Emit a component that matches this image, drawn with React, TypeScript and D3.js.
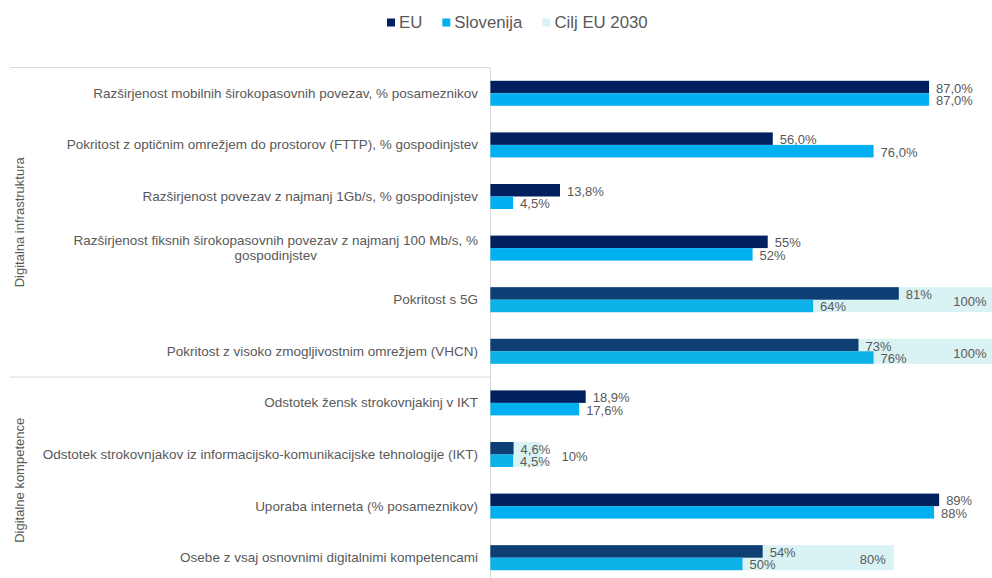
import React, { useEffect, useRef } from "react";
import * as d3 from "d3";

const categories: string[] = [
  "Razširjenost mobilnih širokopasovnih povezav, % posameznikov",
  "Pokritost z optičnim omrežjem do prostorov (FTTP), % gospodinjstev",
  "Razširjenost povezav z najmanj 1Gb/s, % gospodinjstev",
  "Razširjenost fiksnih širokopasovnih povezav z najmanj 100 Mb/s, %\ngospodinjstev",
  "Pokritost s 5G",
  "Pokritost z visoko zmogljivostnim omrežjem (VHCN)",
  "Odstotek žensk strokovnjakinj v IKT",
  "Odstotek strokovnjakov iz informacijsko-komunikacijske tehnologije (IKT)",
  "Uporaba interneta (% posameznikov)",
  "Osebe z vsaj osnovnimi digitalnimi kompetencami",
];
const euValues: number[] = [87.0, 56.0, 13.8, 55, 81, 73, 18.9, 4.6, 89, 54];
const siValues: number[] = [87.0, 76.0, 4.5, 52, 64, 76, 17.6, 4.5, 88, 50];
const targetValues: (number | null)[] = [null, null, null, null, 100, 100, null, 10, null, 80];
const euDecimals: number[] = [1, 1, 1, 0, 0, 0, 1, 1, 0, 0];
const siDecimals: number[] = [1, 1, 1, 0, 0, 0, 1, 1, 0, 0];
const groupNames: string[] = ["Digitalna infrastruktura", "Digitalne kompetence"];
const groupSizes: number[] = [6, 4];
const seriesNames: string[] = ["EU", "Slovenija", "Cilj EU 2030"];
const seriesColors: string[] = ["#002060", "#00B0F0", "#DAF2F5"];

const W = 992;
const H = 578;
const FONT = "'Liberation Sans', Arial, sans-serif";
const TEXT = "#595959";
const GRID = "#D9D9D9";

const fmt = (v: number, d: number) => v.toFixed(d).replace(".", ",") + "%";

export default function App() {
  const ref = useRef<SVGSVGElement | null>(null);

  useEffect(() => {
    const svg = d3.select(ref.current);
    svg.selectAll("*").remove();

    const x = d3.scaleLinear().domain([0, 100]).range([490.4, 994.6]);
    const y = d3.scaleBand<string>().domain(categories).range([67.5, 583.5]).padding(0);
    const bw = y.bandwidth();
    const barH = 12.5;
    const cy = (c: string) => (y(c) as number) + bw / 2;

    // frame lines
    const g0 = svg.append("g");
    g0.append("line").attr("x1", 10).attr("x2", 490).attr("y1", 67.5).attr("y2", 67.5).attr("stroke", GRID);
    let acc = 0;
    groupSizes.forEach((n, gi) => {
      const top = y(categories[acc]) as number;
      const bottom = top + n * bw;
      g0.append("line").attr("x1", 10).attr("x2", 490).attr("y1", bottom).attr("y2", bottom).attr("stroke", GRID);
      g0.append("text")
        .attr("transform", `translate(19,${(top + bottom) / 2}) rotate(-90)`)
        .attr("text-anchor", "middle")
        .attr("dominant-baseline", "central")
        .attr("font-family", FONT)
        .attr("font-size", 13)
        .attr("fill", TEXT)
        .text(groupNames[gi]);
      acc += n;
    });
    g0.append("line").attr("x1", 490.5).attr("x2", 490.5).attr("y1", 67.5).attr("y2", 583.5).attr("stroke", GRID);

    // category labels
    categories.forEach((c) => {
      const lines = c.split("\n");
      const lh = 14.5;
      const y0 = cy(c) - ((lines.length - 1) * lh) / 2;
      const t0 = g0.append("text")
        .attr("x", 478)
        .attr("y", y0)
        .attr("text-anchor", "end")
        .attr("dominant-baseline", "central")
        .attr("font-family", FONT)
        .attr("font-size", 13.5)
        .attr("fill", TEXT)
        .text(lines[0]);
      if (lines.length > 1) {
        const w0 = (t0.node() as SVGTextElement).getComputedTextLength();
        lines.slice(1).forEach((ln, i) => {
          g0.append("text")
            .attr("x", 478 - w0 / 2)
            .attr("y", y0 + (i + 1) * lh)
            .attr("text-anchor", "middle")
            .attr("dominant-baseline", "central")
            .attr("font-family", FONT)
            .attr("font-size", 13.5)
            .attr("fill", TEXT)
            .text(ln);
        });
      }
    });

    // bars
    const gb = svg.append("g");
    gb.selectAll("rect.eu").data(categories).join("rect")
      .attr("class", "eu")
      .attr("x", x(0)).attr("y", (c) => cy(c) - barH)
      .attr("width", (_, i) => x(euValues[i]) - x(0)).attr("height", barH)
      .attr("fill", seriesColors[0]);
    gb.selectAll("rect.si").data(categories).join("rect")
      .attr("class", "si")
      .attr("x", x(0)).attr("y", (c) => cy(c))
      .attr("width", (_, i) => x(siValues[i]) - x(0)).attr("height", barH)
      .attr("fill", seriesColors[1]);
    categories.forEach((c, i) => {
      const t = targetValues[i];
      if (t == null) return;
      gb.append("rect")
        .attr("x", x(0)).attr("y", cy(c) - barH)
        .attr("width", x(t) - x(0)).attr("height", barH * 2)
        .attr("fill", "rgb(66,190,200)").attr("fill-opacity", 0.2);
    });

    // labels
    const gl = svg.append("g").attr("font-family", FONT).attr("font-size", 13).attr("fill", TEXT);
    categories.forEach((c, i) => {
      gl.append("text").attr("x", x(euValues[i]) + 7).attr("y", cy(c) - barH / 2 + 1)
        .attr("dominant-baseline", "central").text(fmt(euValues[i], euDecimals[i]));
      gl.append("text").attr("x", x(siValues[i]) + 7).attr("y", cy(c) + barH / 2 + 1)
        .attr("dominant-baseline", "central").text(fmt(siValues[i], siDecimals[i]));
      const t = targetValues[i];
      if (t != null) {
        const mx = Math.max(euValues[i], siValues[i]);
        gl.append("text")
          .attr("x", Math.max(x(t) - 8, x(mx) + 74))
          .attr("y", cy(c) + 2)
          .attr("text-anchor", "end")
          .attr("dominant-baseline", "central")
          .text(fmt(t, 0));
      }
    });

    // legend
    const lg = svg.append("g");
    let lx = 387;
    seriesNames.forEach((s, i) => {
      lg.append("rect").attr("x", lx).attr("y", 18.5).attr("width", 8).attr("height", 8).attr("fill", seriesColors[i]);
      const tt = lg.append("text").attr("x", lx + 12).attr("y", 22.5)
        .attr("dominant-baseline", "central")
        .attr("font-family", FONT).attr("font-size", 16.8).attr("fill", TEXT).text(s);
      const w = (tt.node() as SVGTextElement).getComputedTextLength();
      lx += 12 + w + 20;
    });
  }, []);

  return (
    <svg
      ref={ref}
      width={W}
      height={H}
      style={{ position: "absolute", left: 0, top: 0, background: "#fff" }}
    />
  );
}
